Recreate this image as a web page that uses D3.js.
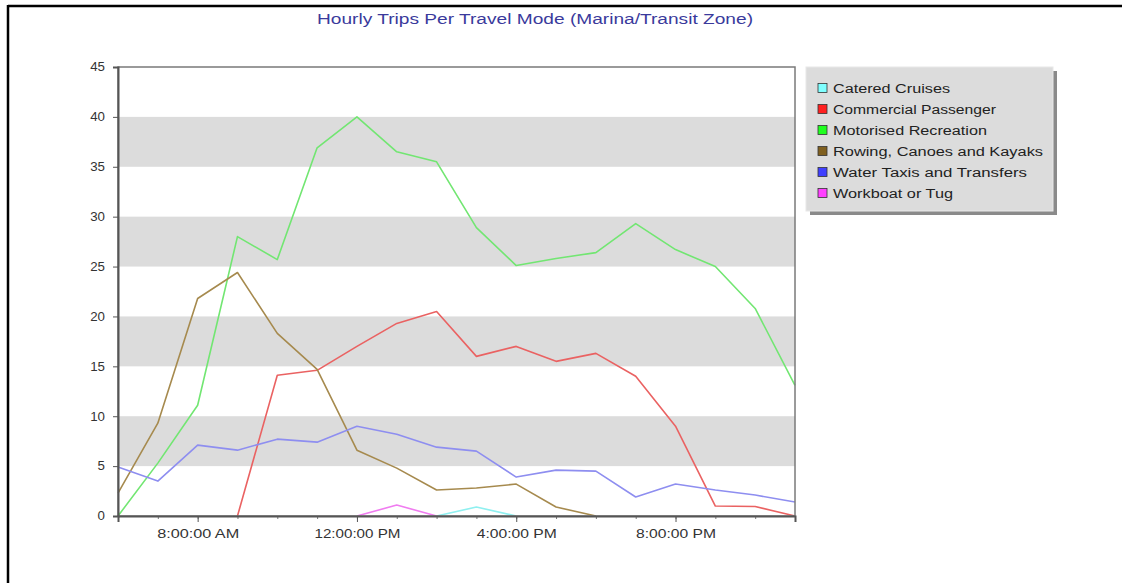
<!DOCTYPE html>
<html>
<head>
<meta charset="utf-8">
<script src="https://cdn.jsdelivr.net/npm/d3@7"></script>
<style>
  html, body { margin: 0; padding: 0; background: #fff; }
  svg { display: block; font-family: Arial, "Liberation Sans", sans-serif; }
</style>
</head>
<body>
<svg id="chart" width="1122" height="583"></svg>
<script>
const title = "Hourly Trips Per Travel Mode (Marina/Transit Zone)";
const hours = [6,7,8,9,10,11,12,13,14,15,16,17,18,19,20,21,22,23];
const tickHours = [8, 12, 16, 20];
const tickLabels = ["8:00:00 AM", "12:00:00 PM", "4:00:00 PM", "8:00:00 PM"];
const yTicks = [0,5,10,15,20,25,30,35,40,45];
const seriesNames = ["Catered Cruises","Commercial Passenger","Motorised Recreation","Rowing, Canoes and Kayaks","Water Taxis and Transfers","Workboat or Tug"];
const lineColors = ["#8ff0f0","#ea6262","#72e672","#a68a4e","#8e8ef0","#f07cf0"];
const swatchColors = ["#7fffff","#ff2020","#20ff20","#806020","#4040ff","#ff40ff"];

const cateredCruises   = [null,null,null,null,null,null,null,null,0,0.9,0,null,null,null,null,null,null,null];
const commercialPass   = [null,null,null,0,14.1,14.6,17.0,19.3,20.5,16.0,17.0,15.5,16.3,14.0,9.0,1.0,0.95,0];
const motorisedRec     = [0,5.3,11.1,28.0,25.7,36.9,40.0,36.5,35.5,28.9,25.1,25.8,26.4,29.3,26.7,25.0,20.8,13.1];
const rowingCanoes     = [2.3,9.3,21.8,24.4,18.3,14.7,6.6,4.8,2.6,2.8,3.2,0.9,0,null,null,null,null,null];
const waterTaxis       = [4.9,3.5,7.1,6.6,7.7,7.4,9.0,8.2,6.9,6.5,3.9,4.6,4.5,1.9,3.2,2.6,2.1,1.4];
const workboatTug      = [null,null,null,null,null,null,0,1.1,0,null,null,null,null,null,null,null,null,null];
const seriesValues = [cateredCruises, commercialPass, motorisedRec, rowingCanoes, waterTaxis, workboatTug];

// widths of the (horizontally stretched) text in the reference
const xLabelWidths = [82, 86, 80, 80];
const legendWidths = [117, 163, 154, 210, 194, 120];

const svg = d3.select("#chart");

// outer frame (top and left edges visible)
svg.append("line").attr("x1",8).attr("y1",6).attr("x2",1122).attr("y2",6).attr("stroke","#000").attr("stroke-width",2.5);
svg.append("line").attr("x1",8).attr("y1",5).attr("x2",8).attr("y2",583).attr("stroke","#000").attr("stroke-width",2.5);

svg.append("text").attr("x",317).attr("y",24)
  .attr("font-size",14).attr("fill","#3a3a9c")
  .attr("textLength",436).attr("lengthAdjust","spacingAndGlyphs").text(title);

const x = d3.scaleLinear().domain([6,23]).range([118,795]);
const y = d3.scaleLinear().domain([0,45]).range([516,67]);

// bands
const bands = [[5,10],[15,20],[25,30],[35,40]];
svg.append("g").selectAll("rect").data(bands).join("rect")
  .attr("x", x(6)).attr("width", x(23)-x(6))
  .attr("y", d => y(d[1])).attr("height", d => y(d[0]) - y(d[1]))
  .attr("fill","#dcdcdc");

// lines
const line = d3.line().defined(d => d[1] !== null).x(d => x(d[0])).y(d => y(d[1]));
seriesValues.forEach((vals, i) => {
  svg.append("path").datum(hours.map((h, j) => [h, vals[j]]))
    .attr("d", line).attr("fill","none").attr("stroke", lineColors[i])
    .attr("stroke-width",1.6).attr("stroke-linejoin","round");
});

// plot border
svg.append("rect").attr("x",x(6)).attr("y",y(45)).attr("width",x(23)-x(6)).attr("height",y(0)-y(45))
  .attr("fill","none").attr("stroke","#7a7a7a").attr("stroke-width",1.5);

// y axis
const yAxis = svg.append("g").attr("transform",`translate(${x(6)},0)`)
  .call(d3.axisLeft(y).tickValues(yTicks).tickSize(5).tickPadding(8));
yAxis.select(".domain").attr("stroke","#555").attr("stroke-width",2);
yAxis.selectAll(".tick line").attr("stroke","#555");
yAxis.selectAll("text").attr("font-size",12).attr("fill","#333")
  .attr("font-family","Arial, 'Liberation Sans', sans-serif")
  .attr("textLength", d => String(d).length * 7.4).attr("lengthAdjust","spacingAndGlyphs");

// x axis minor ticks (hourly)
const xMinor = svg.append("g").attr("transform",`translate(0,${y(0)})`)
  .call(d3.axisBottom(x).tickValues(hours).tickSize(3).tickFormat(""));
xMinor.select(".domain").remove();
xMinor.selectAll(".tick line").attr("stroke","#777");

// x axis major
const xAxis = svg.append("g").attr("transform",`translate(0,${y(0)})`)
  .call(d3.axisBottom(x).tickValues(tickHours).tickSize(6).tickPadding(7)
    .tickFormat((d,i) => tickLabels[i]));
xAxis.select(".domain").attr("stroke","#555").attr("stroke-width",2);
xAxis.selectAll(".tick line").attr("stroke","#555");
xAxis.selectAll("text").attr("font-size",12).attr("fill","#333")
  .attr("font-family","Arial, 'Liberation Sans', sans-serif")
  .attr("textLength", (d,i) => xLabelWidths[i]).attr("lengthAdjust","spacingAndGlyphs");

// legend
const lg = svg.append("g");
lg.append("rect").attr("x",810).attr("y",71).attr("width",247).attr("height",144).attr("fill","#8a8a8a");
lg.append("rect").attr("x",806).attr("y",67).attr("width",247).attr("height",144).attr("fill","#dcdcdc").attr("stroke","#e8e8e8");
const items = lg.selectAll("g.item").data(seriesNames).join("g").attr("class","item")
  .attr("transform",(d,i) => `translate(818,${88.5 + i*21})`);
items.append("rect").attr("x",0).attr("y",-5).attr("width",9).attr("height",9)
  .attr("fill",(d,i) => swatchColors[i]).attr("stroke","#333").attr("stroke-width",0.8);
items.append("text").attr("x",15).attr("y",4.5).attr("font-size",12.5).attr("fill","#222")
  .attr("textLength",(d,i) => legendWidths[i]).attr("lengthAdjust","spacingAndGlyphs").text(d => d);
</script>
</body>
</html>
